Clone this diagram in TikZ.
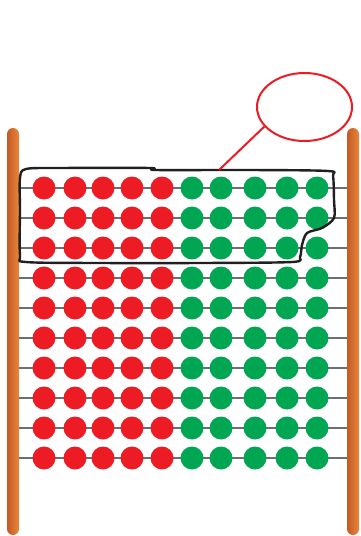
\documentclass[tikz,border=0pt]{standalone}
\usepackage{tikz}
\usetikzlibrary{shapes.geometric}
\definecolor{beadred}{HTML}{ED1C24}
\definecolor{beadgreen}{HTML}{00A651}
\definecolor{wiregray}{HTML}{6D6E71}
\definecolor{poledark}{HTML}{C45A24}
\definecolor{polelight}{HTML}{E8863C}
\definecolor{inkblack}{HTML}{231F20}
\tikzset{
  bead/.style={circle, inner sep=0pt, minimum size=23pt},
  redbead/.style={bead, fill=beadred},
  greenbead/.style={bead, fill=beadgreen},
  wire/.style={wiregray, line width=2.2pt},
  pole/.style={left color=poledark, right color=polelight, rounded corners=6pt},
}
\begin{document}
\begin{tikzpicture}[x=1pt, y=-1pt]
  \useasboundingbox (0,0) rectangle (360,536);
  % Poles
  \shade[pole] (7,128) rectangle (19,535);
  \shade[pole] (347,128) rectangle (359,535);
  % Wires
  \foreach \r in {0,...,9} {
    \coordinate (wl\r) at (19,{188+30*\r});
    \coordinate (wr\r) at (347,{188+30*\r});
    \draw[wire] (wl\r) -- (wr\r);
  }
  % Beads
  \foreach \r in {0,...,9} {
    \foreach \x [count=\i] in {44,75,103,132,162}
      \node[redbead] (red\r-\i) at (\x,{188+30*\r}) {};
    \foreach \x [count=\i] in {192,221,255,287,317}
      \node[greenbead] (green\r-\i) at (\x,{188+30*\r}) {};
  }
  % Loop round the top rows
  \draw[inkblack, line width=2.4pt, line join=round]
    plot[smooth cycle, tension=0.5] coordinates {
      (20,178) (26,169) (60,168) (150,168) (156,170) (250,170)
      (328,171) (333,176) (334,200) (334,218) (322,228) (307,233)
      (302,245) (300,257) (292,262) (200,263) (100,263) (26,262)
      (20,255) (20,210)};
  % Callout
  \node[ellipse, draw=beadred, line width=2pt, inner sep=0pt,
        minimum width=95pt, minimum height=68pt] (callout) at (304.5,107) {};
  \coordinate (tip) at (219,170);
  \draw[beadred, line width=2pt] (callout.206) -- (tip);
\end{tikzpicture}
\end{document}
